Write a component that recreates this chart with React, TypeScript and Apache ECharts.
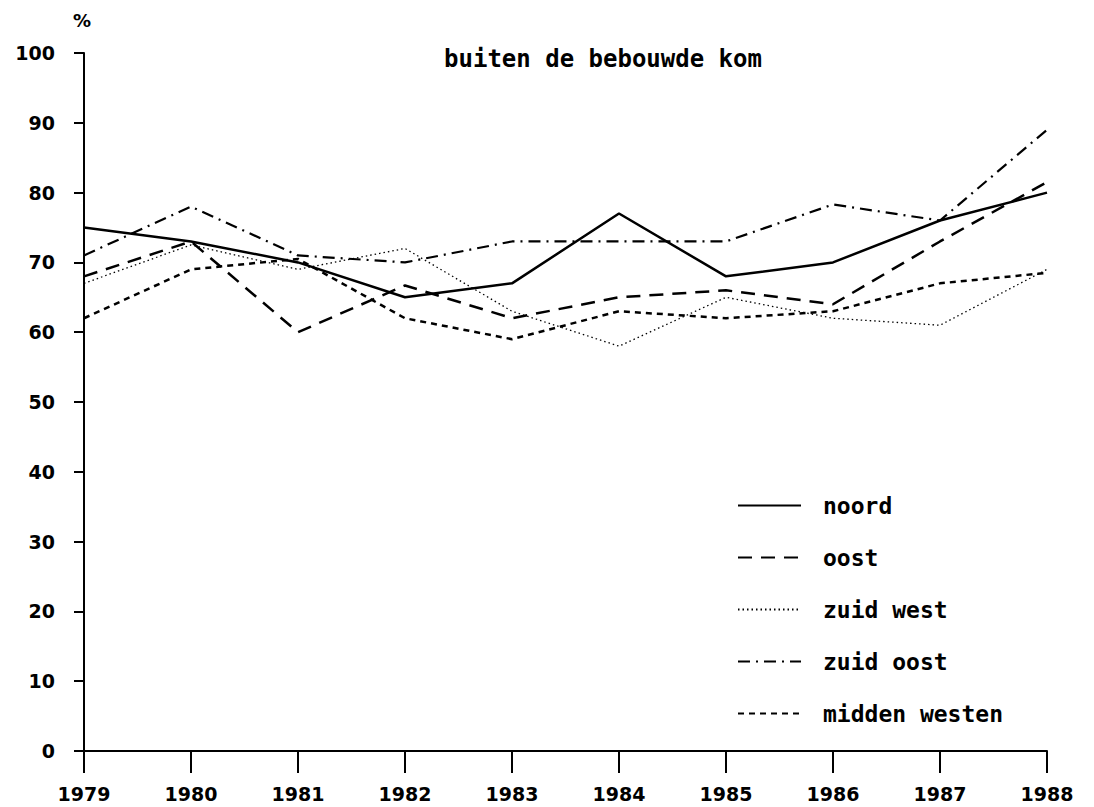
import React, { useEffect, useRef } from "react";
import * as echarts from "echarts";

const years = [1979, 1980, 1981, 1982, 1983, 1984, 1985, 1986, 1987, 1988];
const noord = [75, 73, 70, 65, 67, 77, 68, 70, 76, 80];
const oost = [68, 73, 60, 66.7, 62, 65, 66, 64, 73, 81.5];
const zuidWest = [67, 72.5, 69, 72, 63, 58, 65, 62, 61, 69];
const zuidOost = [71, 78, 71, 70, 73, 73, 73, 78.3, 76, 89];
const middenWesten = [62, 69, 70.5, 62, 59, 63, 62, 63, 67, 68.5];
const yTicks = [0, 10, 20, 30, 40, 50, 60, 70, 80, 90, 100];

const title = "buiten de bebouwde kom";

export default function App() {
  const ref = useRef<HTMLDivElement>(null);
  useEffect(() => {
    if (!ref.current) return;
    const chart = echarts.init(ref.current, null, { renderer: "svg" });
    const mk = (name: string, data: number[], type: any, width: number) => ({
      name,
      type: "line",
      data: years.map((y, i) => [y, data[i]]),
      symbol: "none",
      lineStyle: { color: "#000", width, type },
      itemStyle: { color: "#000" },
    });
    chart.setOption({
      animation: false,
      backgroundColor: "#fff",
      title: {
        text: title,
        left: 598,
        textAlign: "center",
        top: 42,
        textStyle: { fontFamily: "DejaVu Sans Mono", fontWeight: "bold", fontSize: 24, color: "#000" },
      },
      grid: { left: 84, right: 47, top: 53, bottom: 56, outerBoundsMode: "none" },
      legend: {
        orient: "vertical",
        left: 732,
        top: 489,
        itemWidth: 63,
        itemHeight: 14,
        itemGap: 29,
        itemStyle: { opacity: 0 },
        data: ["noord", "oost", "zuid west", "zuid oost", "midden westen"],
        textStyle: {
          fontFamily: "DejaVu Sans Mono",
          fontWeight: "bold",
          fontSize: 23,
          color: "#000",
          lineHeight: 20,
          padding: [0, 0, 0, 17],
        },
      },
      xAxis: {
        type: "value",
        min: 1979,
        max: 1988,
        interval: 1,
        position: "bottom",
        axisLine: { show: true, onZero: false, lineStyle: { color: "#000", width: 2 } },
        axisTick: { show: true, length: 22, lineStyle: { color: "#000", width: 2 } },
        axisLabel: {
          margin: 33,
          color: "#000",
          fontFamily: "DejaVu Sans",
          fontWeight: "bold",
          fontSize: 19,
          formatter: (v: number) => String(v),
        },
        splitLine: { show: false },
      },
      yAxis: {
        type: "value",
        min: 0,
        max: 100,
        interval: 10,
        name: "%",
        nameGap: 24,
        nameTextStyle: { color: "#000", fontFamily: "DejaVu Sans", fontWeight: "bold", fontSize: 18, padding: [0, 4, 0, 0] },
        axisLine: { show: true, lineStyle: { color: "#000", width: 2 } },
        axisTick: { show: true, length: 10, lineStyle: { color: "#000", width: 2 } },
        axisLabel: {
          margin: 29,
          color: "#000",
          fontFamily: "DejaVu Sans",
          fontWeight: "bold",
          fontSize: 19,
          formatter: (v: number) => (yTicks.includes(v) ? String(v) : ""),
        },
        splitLine: { show: false },
      },
      series: [
        mk("noord", noord, "solid", 2.5),
        mk("oost", oost, [14, 9], 2.5),
        mk("zuid west", zuidWest, [1.5, 3], 1.3),
        mk("zuid oost", zuidOost, [12, 6, 2, 6], 2.2),
        mk("midden westen", middenWesten, [6, 5], 2.5),
        {
          name: "xticks",
          type: "custom",
          clip: false,
          silent: true,
          data: years.map((y) => [y, 0]),
          encode: { x: 0, y: 1 },
          renderItem: (params: any, api: any) => {
            const p = api.coord([api.value(0), 0]);
            return {
              type: "line",
              shape: { x1: p[0], y1: p[1], x2: p[0], y2: p[1] + 22 },
              style: { stroke: "#000", lineWidth: 2 },
            };
          },
        },
      ],
    });
    return () => chart.dispose();
  }, []);
  return <div ref={ref} style={{ width: 1094, height: 807, position: "absolute", left: 0, top: 0 }} />;
}
